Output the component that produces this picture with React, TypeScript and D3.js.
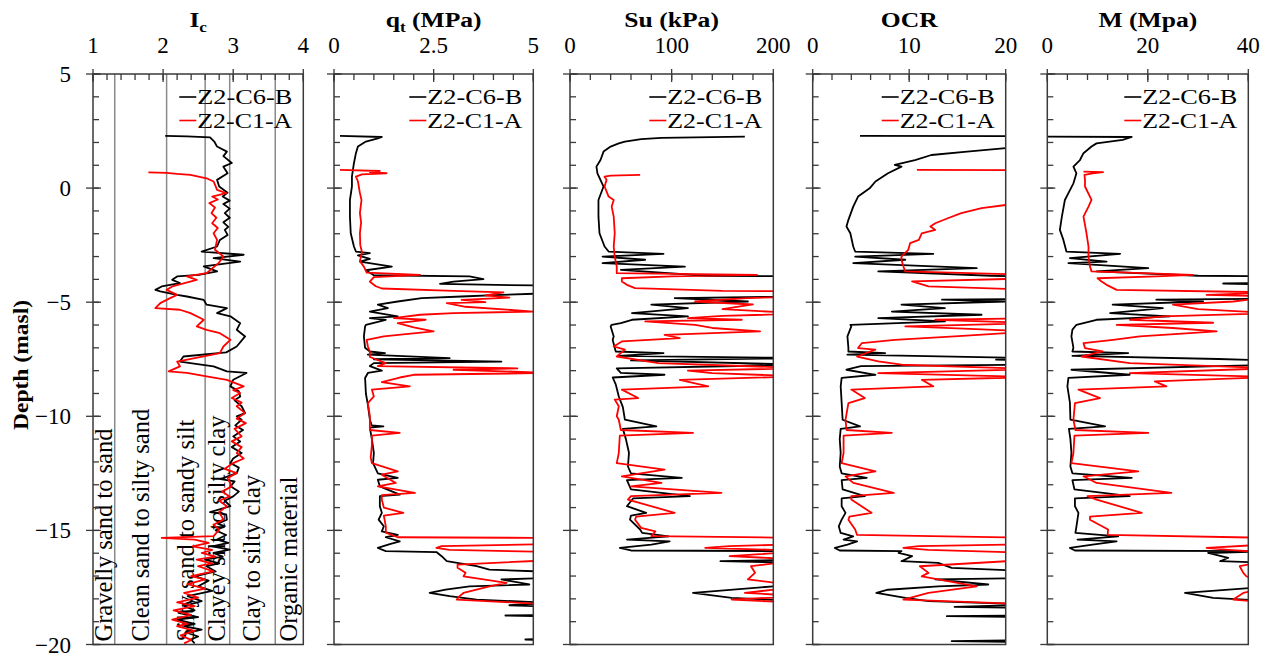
import React from "react";
import * as d3 from "d3";

type P = [number, number][]; // [depth (masl), value]

// ---------- Data ----------
const seriesNames = ["Z2-C6-B", "Z2-C1-A"];
const depthMajorTicks = [5, 0, -5, -10, -15, -20];
const icBoundaries = [1.31, 2.05, 2.6, 2.95, 3.6];
const icZones = [
  "Gravelly sand to sand",
  "Clean sand to silty sand",
  "Silty sand to sandy silt",
  "Clayey silt to silty clay",
  "Clay to silty clay",
  "Organic material",
];

const icC6B: P = [
  [2.29, 2.03], [2.27, 2.34], [2.22, 2.67], [2.04, 2.73], [1.82, 2.77], [1.6, 2.91], [1.4, 2.86], [1.1, 2.98],
  [0.94, 2.86], [0.65, 2.92], [0.36, 2.77], [0.07, 2.8], [-0.2, 2.92], [-0.37, 2.85], [-0.55, 2.95],
  [-0.7, 2.86], [-0.9, 2.95], [-1.1, 2.88], [-1.3, 2.95], [-1.5, 2.86], [-1.7, 2.93], [-1.83, 2.88],
  [-2.05, 2.92], [-2.27, 2.81], [-2.56, 2.77], [-2.78, 2.55], [-2.92, 3.15], [-3.07, 2.72], [-3.22, 3.1],
  [-3.43, 2.58], [-3.65, 2.77], [-3.8, 2.51], [-3.87, 2.2], [-4.02, 2.13], [-4.16, 2.24], [-4.31, 1.98],
  [-4.46, 1.89], [-4.53, 1.96], [-4.68, 2.2], [-4.75, 2.34], [-4.9, 2.58], [-5.11, 2.62], [-5.26, 2.91],
  [-5.48, 2.77], [-5.62, 2.96], [-5.92, 3.1], [-6.21, 3.05], [-6.5, 3.17], [-6.94, 3.05], [-7.2, 2.9],
  [-7.38, 2.29], [-7.6, 2.24], [-7.67, 2.39], [-7.81, 2.72], [-8.03, 2.91], [-8.1, 3.19], [-8.4, 3.0],
  [-8.69, 2.96], [-8.9, 3.08], [-9.13, 3.1], [-9.3, 3.02], [-9.56, 3.12], [-9.86, 3.17], [-10.0, 3.05],
  [-10.15, 3.12], [-10.4, 3.03], [-10.6, 3.14], [-10.88, 3.0], [-11.1, 3.1], [-11.35, 2.98], [-11.61, 3.12],
  [-11.85, 3.0], [-12.05, 2.96], [-12.25, 3.08], [-12.49, 3.05], [-12.75, 2.82], [-12.85, 3.02],
  [-13.07, 2.96], [-13.3, 3.08], [-13.51, 3.0], [-13.7, 2.88], [-13.94, 2.96], [-14.2, 2.67], [-14.3, 2.9],
  [-14.53, 2.91], [-14.7, 2.78], [-14.82, 2.88], [-15.0, 2.75], [-15.2, 2.9], [-15.4, 2.77], [-15.55, 2.93],
  [-15.7, 2.7], [-15.84, 2.95], [-15.99, 2.72], [-16.15, 2.85], [-16.28, 2.6], [-16.45, 2.8], [-16.57, 2.62],
  [-16.8, 2.75], [-17.01, 2.45], [-17.2, 2.65], [-17.45, 2.5], [-17.65, 2.7], [-17.88, 2.35], [-18.1, 2.55],
  [-18.32, 2.3], [-18.5, 2.45], [-18.61, 2.22], [-18.8, 2.5], [-18.91, 2.2], [-19.1, 2.45], [-19.2, 2.3],
  [-19.35, 2.55], [-19.49, 2.35], [-19.65, 2.5], [-19.78, 2.4], [-19.95, 2.45],
];
const icC1A: P = [
  [0.69, 1.79], [0.67, 2.05], [0.62, 2.2], [0.58, 2.39], [0.43, 2.62], [0.29, 2.72], [0.15, 2.74], [-0.08, 2.77],
  [-0.22, 2.9], [-0.37, 2.7], [-0.5, 2.78], [-0.66, 2.66], [-0.85, 2.74], [-1.1, 2.69], [-1.3, 2.76],
  [-1.54, 2.7], [-1.75, 2.78], [-1.98, 2.72], [-2.27, 2.77], [-2.7, 2.74], [-3.0, 2.86], [-3.29, 2.79],
  [-3.73, 2.62], [-3.87, 2.34], [-4.02, 2.48], [-4.31, 2.13], [-4.46, 2.05], [-4.68, 2.2], [-4.82, 2.1],
  [-5.04, 1.96], [-5.26, 1.89], [-5.33, 2.24], [-5.48, 2.39], [-5.77, 2.58], [-6.06, 2.48], [-6.21, 2.62],
  [-6.36, 2.81], [-6.65, 2.96], [-6.94, 2.86], [-7.23, 2.81], [-7.6, 2.2], [-7.81, 2.24], [-8.03, 2.08],
  [-8.1, 2.34], [-8.25, 2.62], [-8.4, 2.91], [-8.69, 3.15], [-8.85, 3.0], [-8.98, 3.1], [-9.2, 2.98],
  [-9.4, 3.12], [-9.56, 3.05], [-9.86, 3.17], [-10.1, 3.05], [-10.3, 3.18], [-10.55, 3.02], [-10.88, 3.12],
  [-11.1, 2.98], [-11.35, 3.12], [-11.61, 3.05], [-11.85, 3.15], [-12.05, 3.0], [-12.3, 2.88], [-12.49, 3.05],
  [-12.7, 2.92], [-13.07, 2.98], [-13.3, 2.84], [-13.51, 2.95], [-13.7, 2.8], [-13.94, 2.91], [-14.2, 2.8],
  [-14.53, 2.86], [-14.75, 2.72], [-14.97, 2.8], [-15.25, 2.72], [-15.33, 1.98], [-15.4, 2.45], [-15.55, 2.65],
  [-15.7, 2.42], [-15.85, 2.7], [-15.99, 2.55], [-16.15, 2.75], [-16.28, 2.48], [-16.45, 2.7], [-16.57, 2.5],
  [-16.8, 2.72], [-17.0, 2.4], [-17.15, 2.6], [-17.35, 2.35], [-17.55, 2.6], [-17.74, 2.3], [-17.95, 2.5],
  [-18.15, 2.2], [-18.32, 2.45], [-18.5, 2.15], [-18.7, 2.4], [-18.91, 2.13], [-19.1, 2.35], [-19.2, 2.2],
  [-19.4, 2.45], [-19.6, 2.25], [-19.8, 2.4], [-19.95, 2.3],
];

const qtC6B: P = [
  [2.29, 0.15], [2.24, 1.2], [2.18, 1.1], [2.04, 0.8], [1.82, 0.6], [1.53, 0.55], [1.09, 0.5], [0.5, 0.45],
  [0.07, 0.45], [-0.52, 0.4], [-1.25, 0.4], [-1.98, 0.42], [-2.56, 0.5], [-2.78, 0.55], [-2.85, 0.9],
  [-2.95, 0.6], [-3.1, 0.9], [-3.22, 0.65], [-3.44, 1.45], [-3.6, 0.8], [-3.82, 1.0], [-3.87, 3.4],
  [-3.99, 3.75], [-4.1, 3.0], [-4.2, 2.66], [-4.28, 5.5], [-4.6, 5.5], [-4.68, 4.2], [-4.75, 3.2], [-4.82, 2.2],
  [-4.97, 1.6], [-5.11, 1.1], [-5.26, 1.35], [-5.41, 0.9], [-5.62, 1.6], [-5.7, 0.9], [-5.77, 1.3], [-5.99, 0.8],
  [-6.06, 0.78], [-6.5, 0.75], [-7.0, 0.78], [-7.16, 0.9], [-7.23, 1.28], [-7.3, 0.85], [-7.45, 2.9], [-7.5, 1.0],
  [-7.6, 4.2], [-7.67, 1.0], [-7.8, 0.9], [-8.0, 1.2], [-8.1, 0.85], [-8.32, 0.78], [-9.0, 0.8], [-9.5, 0.85],
  [-10.15, 0.9], [-10.4, 0.95], [-10.44, 1.24], [-10.5, 0.9], [-11.0, 0.95], [-11.6, 1.0], [-12.05, 0.98],
  [-12.5, 1.1], [-12.7, 1.6], [-12.78, 1.1], [-13.07, 1.15], [-13.43, 1.65], [-13.5, 1.15], [-13.94, 1.15],
  [-14.23, 1.2], [-14.53, 1.12], [-14.82, 1.25], [-15.04, 1.2], [-15.2, 1.6], [-15.3, 1.3], [-15.48, 1.65],
  [-15.6, 1.4], [-15.77, 1.1], [-15.91, 1.3], [-15.95, 2.57], [-16.13, 2.7], [-16.35, 2.83], [-16.57, 3.58],
  [-16.72, 3.9], [-16.82, 5.5], [-17.08, 5.5], [-17.15, 4.2], [-17.37, 4.9], [-17.45, 3.4], [-17.6, 2.8],
  [-17.74, 2.4], [-17.88, 2.9], [-18.03, 3.58], [-18.18, 5.5], [-18.28, 4.4], [-18.35, 5.5], [-18.7, 5.5],
  [-18.73, 4.3], [-18.78, 5.5], [-19.75, 5.5], [-19.78, 4.8], [-19.82, 5.5], [-20.0, 5.5],
];
const qtC1A: P = [
  [0.8, 0.15], [0.75, 1.15], [0.7, 0.9], [0.65, 1.32], [0.6, 0.7], [0.5, 0.55], [0.3, 0.6], [-0.22, 0.65],
  [-0.52, 0.69], [-1.1, 0.65], [-1.5, 0.68], [-1.98, 0.65], [-2.5, 0.66], [-2.8, 0.7], [-3.2, 0.65],
  [-3.44, 0.75], [-3.7, 0.82], [-3.8, 2.16], [-3.9, 1.0], [-4.1, 0.9], [-4.3, 1.05], [-4.4, 1.2], [-4.5, 3.0],
  [-4.57, 4.25], [-4.7, 3.8], [-4.8, 4.4], [-4.9, 3.2], [-5.0, 3.8], [-5.04, 2.83], [-5.2, 3.3], [-5.41, 5.0],
  [-5.48, 3.0], [-5.55, 2.16], [-5.7, 1.5], [-5.77, 2.3], [-5.92, 1.6], [-6.1, 2.0], [-6.28, 2.5], [-6.4, 1.8],
  [-6.5, 1.25], [-6.65, 0.82], [-6.94, 0.85], [-7.16, 0.9], [-7.4, 0.9], [-7.67, 1.3], [-7.8, 1.1], [-7.9, 4.6],
  [-7.96, 3.0], [-8.1, 5.5], [-8.18, 2.0], [-8.3, 1.65], [-8.5, 1.2], [-8.69, 1.9], [-8.83, 0.95], [-9.13, 1.0],
  [-9.42, 0.85], [-10.0, 0.9], [-10.6, 0.9], [-10.73, 1.65], [-10.85, 0.95], [-11.3, 0.95], [-11.8, 0.92],
  [-12.05, 0.95], [-12.41, 1.6], [-12.56, 1.2], [-12.92, 1.55], [-13.07, 1.1], [-13.36, 2.03], [-13.45, 1.2],
  [-13.65, 1.2], [-14.0, 1.25], [-14.23, 1.74], [-14.35, 1.25], [-14.82, 1.3], [-15.1, 1.3], [-15.3, 1.6],
  [-15.33, 5.5], [-15.6, 5.5], [-15.69, 2.7], [-15.77, 2.57], [-15.85, 2.9], [-15.95, 5.5], [-16.3, 5.5],
  [-16.5, 3.1], [-16.64, 3.1], [-16.86, 3.3], [-17.01, 3.25], [-17.3, 4.33], [-17.45, 3.9], [-17.74, 3.25],
  [-17.88, 3.15], [-18.03, 3.08], [-18.25, 5.5], [-20.0, 5.5],
];

const suC6B: P = [
  [2.26, 172], [2.2, 90], [2.15, 70], [2.04, 54], [1.96, 48], [1.82, 40], [1.6, 33], [1.23, 30], [0.94, 26],
  [0.65, 27], [0.07, 33], [-0.52, 28], [-1.25, 28], [-1.98, 29], [-2.56, 34], [-2.78, 38], [-2.88, 92],
  [-3.0, 32], [-3.14, 74], [-3.29, 32], [-3.44, 113], [-3.58, 50], [-3.84, 133], [-3.87, 230], [-4.75, 230],
  [-4.82, 103], [-4.97, 175], [-5.11, 80], [-5.26, 116], [-5.48, 61], [-5.62, 116], [-5.77, 61], [-5.92, 50],
  [-5.99, 41], [-6.06, 40], [-6.5, 43], [-6.65, 42], [-7.0, 44], [-7.16, 45], [-7.23, 92], [-7.35, 48],
  [-7.45, 230], [-7.55, 60], [-7.74, 230], [-7.9, 46], [-8.1, 50], [-8.18, 93], [-8.3, 42], [-8.6, 45],
  [-9.13, 48], [-9.6, 52], [-10.15, 54], [-10.44, 85], [-10.55, 52], [-11.0, 55], [-11.6, 58], [-12.2, 57],
  [-12.5, 60], [-12.7, 110], [-12.8, 56], [-13.2, 60], [-13.5, 118], [-13.6, 62], [-13.94, 56], [-14.23, 75],
  [-14.35, 60], [-14.53, 59], [-14.96, 69], [-15.11, 71], [-15.26, 97], [-15.4, 56], [-15.48, 98], [-15.62, 80],
  [-15.77, 49], [-15.88, 60], [-15.91, 230], [-16.28, 230], [-16.35, 148], [-16.42, 230], [-17.4, 230],
  [-17.45, 200], [-17.74, 121], [-17.96, 159], [-18.1, 230], [-20.0, 230],
];
const suC1A: P = [
  [0.58, 69], [0.55, 40], [0.5, 34], [0.36, 36], [0.07, 34], [-0.37, 38], [-0.52, 43], [-0.81, 41],
  [-1.25, 43], [-1.98, 44], [-2.56, 43], [-3.0, 44], [-3.44, 46], [-3.73, 46], [-3.8, 184], [-3.87, 100],
  [-3.95, 51], [-4.09, 51], [-4.24, 56], [-4.38, 64], [-4.5, 150], [-4.53, 230], [-4.75, 230], [-4.82, 174],
  [-4.97, 123], [-5.1, 180], [-5.3, 150], [-5.5, 230], [-5.6, 150], [-5.7, 116], [-5.77, 169], [-5.84, 74],
  [-5.99, 123], [-6.13, 140], [-6.28, 187], [-6.43, 93], [-6.57, 108], [-6.72, 51], [-6.94, 43], [-7.08, 54],
  [-7.38, 46], [-7.67, 87], [-7.89, 230], [-8.0, 116], [-8.11, 140], [-8.25, 230], [-8.4, 108], [-8.69, 136],
  [-8.83, 51], [-9.2, 67], [-9.27, 44], [-9.56, 48], [-10.0, 46], [-10.15, 48], [-10.6, 50], [-10.73, 121],
  [-10.85, 49], [-11.61, 48], [-12.05, 46], [-12.34, 93], [-12.63, 51], [-12.92, 90], [-13.07, 60],
  [-13.36, 149], [-13.5, 60], [-13.65, 57], [-14.23, 103], [-14.4, 65], [-14.53, 64], [-14.89, 70],
  [-15.04, 84], [-15.25, 80], [-15.33, 230], [-15.6, 230], [-15.69, 157], [-15.77, 133], [-15.85, 200],
  [-15.91, 230], [-16.13, 157], [-16.28, 230], [-16.57, 178], [-16.86, 182], [-17.15, 175], [-17.45, 230],
  [-17.74, 172], [-17.88, 230], [-18.03, 159], [-18.18, 230], [-20.0, 230],
];

const ocrC6B: P = [
  [2.29, 4.9], [2.27, 23], [1.78, 23], [1.75, 20], [1.6, 16], [1.45, 12.3], [1.23, 10.6], [1.02, 8.5],
  [0.94, 9.2], [0.65, 7.8], [0.29, 6.5], [-0.01, 5.9], [-0.37, 4.7], [-0.81, 4.2], [-1.39, 3.7], [-1.68, 3.5],
  [-1.98, 3.9], [-2.56, 4.2], [-2.78, 4.4], [-2.88, 12.5], [-3.0, 4.4], [-3.14, 9.6], [-3.29, 4.2],
  [-3.51, 17], [-3.65, 6.8], [-3.84, 18.5], [-3.9, 23], [-4.85, 23], [-4.89, 13.4], [-4.97, 20], [-5.11, 9.2],
  [-5.26, 13.7], [-5.41, 8.2], [-5.55, 17.5], [-5.7, 6.8], [-5.84, 13.7], [-5.99, 3.9], [-6.06, 4.0],
  [-6.5, 3.6], [-7.0, 3.7], [-7.16, 3.7], [-7.23, 7.5], [-7.3, 3.6], [-7.45, 23], [-7.52, 19], [-7.6, 23],
  [-7.74, 23], [-7.8, 5], [-7.96, 3.5], [-8.18, 6.5], [-8.32, 3.0], [-8.69, 2.9], [-9.4, 3.0], [-10.15, 3.1],
  [-10.44, 4.9], [-10.55, 2.9], [-11.0, 2.8], [-11.6, 2.9], [-12.2, 2.8], [-12.5, 3.0], [-12.7, 5.6],
  [-12.8, 3.0], [-13.2, 3.1], [-13.5, 5.4], [-13.6, 3.0], [-13.94, 3.0], [-14.23, 3.4], [-14.53, 3.0],
  [-14.82, 2.7], [-15.11, 2.9], [-15.26, 4.2], [-15.4, 3.2], [-15.48, 4.6], [-15.62, 3.6], [-15.77, 2.3],
  [-15.88, 2.8], [-15.91, 9.2], [-15.99, 8.9], [-16.13, 10.3], [-16.35, 9.2], [-16.42, 13], [-16.64, 14.4],
  [-16.8, 23], [-17.08, 23], [-17.15, 12.7], [-17.37, 18.2], [-17.45, 13], [-17.6, 7.8], [-17.74, 6.6],
  [-17.96, 9.6], [-18.1, 12], [-18.25, 23], [-18.35, 14.7], [-18.4, 23], [-18.72, 23], [-18.76, 13.9],
  [-18.8, 23], [-19.8, 23], [-19.85, 14.4], [-19.9, 23], [-20.0, 23],
];
const ocrC1A: P = [
  [0.8, 10.8], [0.78, 23], [-0.7, 23], [-0.74, 20], [-0.88, 17.5], [-1.1, 15.4], [-1.32, 14], [-1.54, 12.7],
  [-1.68, 12.2], [-1.83, 12.7], [-1.98, 11.3], [-2.27, 11], [-2.41, 10.1], [-2.71, 9.9], [-3.0, 9.2],
  [-3.14, 9.2], [-3.44, 9.4], [-3.65, 9.6], [-3.8, 23], [-3.95, 23], [-4.09, 10.3], [-4.31, 12], [-4.46, 23],
  [-5.7, 23], [-5.77, 12.7], [-5.92, 23], [-6.06, 9.6], [-6.15, 15], [-6.28, 23], [-6.5, 14.7], [-6.65, 8.5],
  [-6.79, 5.1], [-7.01, 4.7], [-7.08, 6.5], [-7.38, 4.6], [-7.59, 6.8], [-7.74, 9.2], [-7.93, 23],
  [-8.11, 6.8], [-8.28, 23], [-8.4, 11.3], [-8.69, 12.5], [-8.83, 4.0], [-9.2, 5.4], [-9.42, 3.7],
  [-10.15, 3.4], [-10.6, 3.5], [-10.73, 8.2], [-10.85, 3.2], [-11.61, 3.2], [-12.05, 3.0], [-12.41, 6.5],
  [-12.63, 3.4], [-12.92, 4.2], [-13.36, 8.4], [-13.5, 4.0], [-13.65, 4.0], [-14.23, 6.1], [-14.4, 3.8],
  [-14.53, 3.7], [-14.96, 4.4], [-15.2, 4.6], [-15.33, 23], [-15.6, 23], [-15.69, 11], [-15.77, 9.4],
  [-15.85, 12], [-15.99, 23], [-16.28, 23], [-16.57, 11.1], [-16.86, 12], [-17.01, 11.3], [-17.45, 17],
  [-17.74, 12], [-18.03, 9.4], [-18.25, 23], [-20.0, 23],
];

const mC6B: P = [
  [2.26, 0], [2.24, 16.8], [2.11, 15], [1.96, 9.8], [1.82, 8.8], [1.53, 7.2], [1.23, 6.5], [0.94, 5.2],
  [0.65, 5.8], [0.21, 5.2], [-0.22, 4.2], [-0.52, 3.5], [-1.25, 2.9], [-1.83, 2.5], [-2.27, 3.2], [-2.78, 3.8],
  [-2.88, 14.5], [-3.07, 4.5], [-3.22, 11.8], [-3.29, 4.2], [-3.51, 20.1], [-3.65, 9.8], [-3.84, 30],
  [-3.87, 45], [-4.15, 45], [-4.18, 35], [-4.24, 45], [-4.85, 45], [-4.89, 21.7], [-4.97, 31], [-5.11, 13],
  [-5.26, 23], [-5.48, 12.5], [-5.62, 24.4], [-5.77, 9.8], [-5.99, 5.8], [-6.2, 5.0], [-6.5, 4.8], [-7.0, 5.2],
  [-7.16, 5.0], [-7.23, 16.1], [-7.35, 5.0], [-7.49, 34], [-7.55, 45], [-7.74, 45], [-7.96, 4.8],
  [-8.18, 16.4], [-8.32, 4.2], [-8.69, 4.0], [-9.4, 4.5], [-10.15, 4.6], [-10.44, 11.5], [-10.55, 4.3],
  [-11.0, 4.6], [-11.6, 4.8], [-12.2, 4.6], [-12.5, 5.0], [-12.7, 16.8], [-12.8, 5.0], [-13.2, 5.4],
  [-13.5, 16.4], [-13.6, 5.5], [-13.94, 5.5], [-14.23, 6.2], [-14.53, 6.0], [-14.82, 5.8], [-15.11, 5.6],
  [-15.26, 14.1], [-15.4, 6], [-15.48, 13.8], [-15.62, 9], [-15.77, 4.5], [-15.88, 5.5], [-15.91, 45],
  [-15.99, 32], [-16.2, 36], [-16.35, 34.4], [-16.42, 45], [-17.45, 45], [-17.74, 27.4], [-17.96, 33],
  [-18.1, 45], [-20.0, 45],
];
const mC1A: P = [
  [0.72, 7.2], [0.7, 11.1], [0.65, 9], [0.58, 7.4], [0.36, 7.5], [0.07, 7.5], [-0.52, 8.8], [-0.81, 8.2],
  [-1.25, 7.2], [-1.98, 7.8], [-2.56, 8.2], [-3.0, 8.2], [-3.44, 8.5], [-3.65, 8.8], [-3.8, 29], [-3.87, 21.7],
  [-3.95, 10], [-4.09, 10.8], [-4.24, 11.8], [-4.46, 13.8], [-4.57, 45], [-4.68, 31.7], [-4.75, 45],
  [-4.97, 37], [-5.11, 25], [-5.3, 30], [-5.48, 45], [-5.62, 23], [-5.77, 16.4], [-5.9, 33], [-5.99, 13.8],
  [-6.13, 25], [-6.28, 33.7], [-6.5, 18.4], [-6.65, 13.1], [-6.79, 7.2], [-7.01, 7.5], [-7.16, 11],
  [-7.38, 6.8], [-7.67, 16.4], [-7.89, 45], [-8.11, 16.4], [-8.28, 45], [-8.47, 21.4], [-8.69, 23.7],
  [-8.83, 6.2], [-9.2, 10.5], [-9.42, 5.5], [-10.15, 5.2], [-10.6, 5.6], [-10.73, 20.1], [-10.85, 5.4],
  [-11.61, 5.2], [-12.05, 4.8], [-12.41, 18.1], [-12.63, 7.2], [-12.92, 9.8], [-13.36, 24.7], [-13.5, 8],
  [-13.65, 9.8], [-14.23, 18.8], [-14.4, 8.5], [-14.53, 8.5], [-14.96, 12.1], [-15.2, 12], [-15.33, 45],
  [-15.6, 45], [-15.77, 31.7], [-15.85, 36], [-15.99, 45], [-16.28, 45], [-16.57, 38.3], [-16.86, 39],
  [-17.01, 39.6], [-17.45, 45], [-17.74, 39], [-18.03, 37], [-18.18, 45], [-20.0, 45],
];

// ---------- Layout ----------
const Y_TOP = 74;
const Y_BOT = 644.5;
const SERIF = "'Liberation Serif', 'Times New Roman', serif";
const COLORS = ["#000000", "#ff0000"];
const AXIS = "#3a3a3a";

type Panel = {
  id: string;
  x0: number;
  x1: number;
  domain: [number, number];
  majors: number[];
  minorStep: number;
  black: P;
  red: P;
  title: React.ReactNode;
  showDepthLabels?: boolean;
};

const panels: Panel[] = [
  {
    id: "ic", x0: 93, x1: 303.3, domain: [1, 4], majors: [1, 2, 3, 4], minorStep: 0.2,
    black: icC6B, red: icC1A, showDepthLabels: true,
    title: (<><tspan>I</tspan><tspan fontSize={14} dy={5}>c</tspan></>),
  },
  {
    id: "qt", x0: 334, x1: 533.3, domain: [0, 5], majors: [0, 2.5, 5], minorStep: 0.5,
    black: qtC6B, red: qtC1A,
    title: (<><tspan>q</tspan><tspan fontSize={14} dy={5}>t</tspan><tspan dy={-5}> (MPa)</tspan></>),
  },
  {
    id: "su", x0: 570, x1: 773.3, domain: [0, 200], majors: [0, 100, 200], minorStep: 20,
    black: suC6B, red: suC1A, title: "Su (kPa)",
  },
  {
    id: "ocr", x0: 812.7, x1: 1005.7, domain: [0, 20], majors: [0, 10, 20], minorStep: 2,
    black: ocrC6B, red: ocrC1A, title: "OCR",
  },
  {
    id: "m", x0: 1047.3, x1: 1248.3, domain: [0, 40], majors: [0, 20, 40], minorStep: 4,
    black: mC6B, red: mC1A, title: "M (Mpa)",
  },
];

const yScale = d3.scaleLinear().domain([5, -20]).range([Y_TOP, Y_BOT]);
const depthMinorTicks = yScale.ticks(25);

const fmtDepth = (d: number) => (d < 0 ? "\u2212" + Math.abs(d) : String(d));
const fmtVal = (v: number) => String(v);

function PanelView({ p }: { p: Panel }) {
  const x = d3.scaleLinear().domain(p.domain).range([p.x0, p.x1]);
  const line = d3
    .line<[number, number]>()
    .x((d) => x(d[1]))
    .y((d) => yScale(d[0]));
  const nMinor = Math.round((p.domain[1] - p.domain[0]) / p.minorStep);
  const minors = d3.range(nMinor + 1).map((i) => p.domain[0] + i * p.minorStep);
  const clipId = `clip-${p.id}`;
  const R = p.x1;
  const cx = (p.x0 + p.x1) / 2;
  return (
    <g>
      <defs>
        <clipPath id={clipId}>
          <rect x={p.x0} y={Y_TOP} width={p.x1 - p.x0} height={Y_BOT - Y_TOP} />
        </clipPath>
      </defs>

      {p.id === "ic" &&
        icBoundaries.map((b) => (
          <line key={b} x1={x(b)} x2={x(b)} y1={Y_TOP} y2={Y_BOT} stroke="#8a8a8a" strokeWidth={1.5} />
        ))}
      {p.id === "ic" &&
        icZones.map((z, i) => {
          const lo = i === 0 ? 1 : icBoundaries[i - 1];
          const hi = i < icBoundaries.length ? icBoundaries[i] : 4;
          const xb = (x(lo) + x(hi)) / 2 + 8;
          return (
            <text
              key={z}
              transform={`translate(${xb},${Y_BOT - 3}) rotate(-90)`}
              fontFamily={SERIF}
              fontSize={24.5}
              fill="#000"
            >
              {z}
            </text>
          );
        })}

      <g clipPath={`url(#${clipId})`}>
        <path d={line(p.black) || ""} fill="none" stroke={COLORS[0]} strokeWidth={1.8} strokeLinejoin="round" />
        <path d={line(p.red) || ""} fill="none" stroke={COLORS[1]} strokeWidth={1.8} strokeLinejoin="round" />
      </g>

      {/* frame */}
      <rect x={p.x0} y={Y_TOP} width={p.x1 - p.x0} height={Y_BOT - Y_TOP} fill="none" stroke={AXIS} strokeWidth={1.5} />

      {/* left (depth) ticks */}
      {depthMinorTicks.map((d) => (
        <line key={`m${d}`} x1={p.x0} x2={p.x0 + 6} y1={yScale(d)} y2={yScale(d)} stroke={AXIS} strokeWidth={1.3} />
      ))}
      {depthMajorTicks.map((d) => (
        <line key={`M${d}`} x1={p.x0 - 7} x2={p.x0 + 8} y1={yScale(d)} y2={yScale(d)} stroke={AXIS} strokeWidth={1.3} />
      ))}
      {p.showDepthLabels &&
        depthMajorTicks.map((d) => (
          <text key={`L${d}`} x={p.x0 - 22} y={yScale(d)} dy="0.35em" textAnchor="end" fontFamily={SERIF} fontSize={23}>
            {fmtDepth(d)}
          </text>
        ))}

      {/* top (value) ticks */}
      {minors.map((v) => (
        <line key={`t${v}`} x1={x(v)} x2={x(v)} y1={Y_TOP} y2={Y_TOP + 6} stroke={AXIS} strokeWidth={1.3} />
      ))}
      {p.majors.map((v) => (
        <g key={`T${v}`}>
          <line x1={x(v)} x2={x(v)} y1={Y_TOP - 5} y2={Y_TOP + 8} stroke={AXIS} strokeWidth={1.3} />
          <text x={x(v)} y={53} textAnchor="middle" fontFamily={SERIF} fontSize={23}>
            {fmtVal(v)}
          </text>
        </g>
      ))}

      {/* title */}
      <text
        transform={`translate(${cx},27) scale(1.22,1)`}
        textAnchor="middle"
        fontFamily={SERIF}
        fontWeight="bold"
        fontSize={21}
      >
        {p.title}
      </text>

      {/* legend */}
      {seriesNames.map((name, i) => (
        <g key={name}>
          <line x1={R - 124} x2={R - 107} y1={97 + i * 23.5} y2={97 + i * 23.5} stroke={COLORS[i]} strokeWidth={1.6} />
          <text
            x={R - 106}
            y={104 + i * 23.5}
            fontFamily={SERIF}
            fontSize={21}
            textLength={95}
            lengthAdjust="spacingAndGlyphs"
          >
            {name}
          </text>
        </g>
      ))}
    </g>
  );
}

export default function App() {
  return (
    <svg width={1264} height={650} style={{ display: "block", margin: 0, background: "#fff" }}>
      <g transform="translate(-8,-8)">
        {panels.map((p) => (
          <PanelView key={p.id} p={p} />
        ))}
        <text
          transform={`translate(28,365) rotate(-90)`}
          textAnchor="middle"
          fontFamily={SERIF}
          fontWeight="bold"
          fontSize={21}
          textLength={130}
          lengthAdjust="spacingAndGlyphs"
        >
          Depth (masl)
        </text>
      </g>
    </svg>
  );
}
